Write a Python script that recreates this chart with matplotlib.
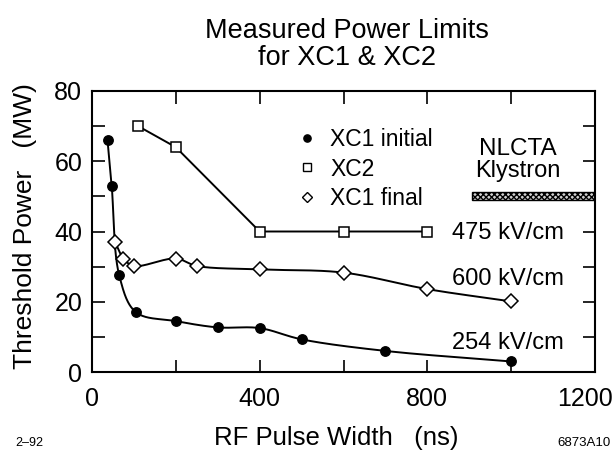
import numpy as np
import matplotlib
matplotlib.use("Agg")
import matplotlib.pyplot as plt
from matplotlib.patches import Rectangle
from matplotlib.lines import Line2D
from matplotlib.ticker import MultipleLocator
from matplotlib.transforms import ScaledTranslation

plt.rcParams['font.family'] = ['Liberation Sans', 'DejaVu Sans']

# ---- data ----
xc1_init_x = [37, 47, 65, 105, 200, 300, 400, 500, 700, 1000]
xc1_init_y = [66, 53, 27.5, 17, 14.5, 12.7, 12.5, 9.3, 6.0, 3.0]
xc2_x = [110, 200, 400, 600, 800]
xc2_y = [70, 64, 40, 40, 40]
xc1_final_x = [55, 75, 100, 200, 250, 400, 600, 800, 1000]
xc1_final_y = [37, 32.3, 30.2, 32.3, 30.2, 29.2, 28.3, 23.6, 20.1]
series_labels = ["XC1 initial", "XC2", "XC1 final"]
field_labels = ["475 kV/cm", "600 kV/cm", "254 kV/cm"]
field_label_y = [39.6, 26.5, 8.3]
klystron_power = 50.1
klystron_xrange = [906, 1200]
x_ticks = [0, 400, 800, 1200]
y_ticks = [0, 20, 40, 60, 80]

XMAX, YMAX = 1200, 80
AX_W, AX_H = 503, 281


def smooth(x, y, n=40):
    """Centripetal Catmull-Rom curve through the points (screen-scaled)."""
    P = np.column_stack([np.asarray(x, float) / XMAX * AX_W,
                         np.asarray(y, float) / YMAX * AX_H])
    P = np.vstack([2 * P[0] - P[1], P, 2 * P[-1] - P[-2]])
    out = []
    for i in range(1, len(P) - 2):
        p0, p1, p2, p3 = P[i - 1], P[i], P[i + 1], P[i + 2]
        t0 = 0.0
        t1 = t0 + np.linalg.norm(p1 - p0) ** 0.5
        t2 = t1 + np.linalg.norm(p2 - p1) ** 0.5
        t3 = t2 + np.linalg.norm(p3 - p2) ** 0.5
        t = np.linspace(t1, t2, n)[:, None]
        A1 = (t1 - t) / (t1 - t0) * p0 + (t - t0) / (t1 - t0) * p1
        A2 = (t2 - t) / (t2 - t1) * p1 + (t - t1) / (t2 - t1) * p2
        A3 = (t3 - t) / (t3 - t2) * p2 + (t - t2) / (t3 - t2) * p3
        B1 = (t2 - t) / (t2 - t0) * A1 + (t - t0) / (t2 - t0) * A2
        B2 = (t3 - t) / (t3 - t1) * A2 + (t - t1) / (t3 - t1) * A3
        C = (t2 - t) / (t2 - t1) * B1 + (t - t1) / (t2 - t1) * B2
        out.append(C)
    C = np.vstack(out)
    return C[:, 0] / AX_W * XMAX, C[:, 1] / AX_H * YMAX


fig = plt.figure(figsize=(6.14, 4.54), dpi=100)
ax = fig.add_axes([92 / 614, 82 / 454, AX_W / 614, AX_H / 454])
ax.set_xlim(0, XMAX)
ax.set_ylim(0, YMAX)

lw = 1.4
# XC1 initial
sx, sy = smooth(xc1_init_x, xc1_init_y)
ax.plot(sx, sy, color='black', lw=lw, zorder=2)
ax.plot(xc1_init_x, xc1_init_y, linestyle='none', marker='o', ms=6.8,
        color='black', zorder=3)
# XC2
ax.plot(xc2_x, xc2_y, color='black', lw=lw, zorder=2)
ax.plot(xc2_x, xc2_y, linestyle='none', marker='s', ms=6.8,
        mfc='white', mec='black', mew=1.1, zorder=3)
# XC1 final
sx, sy = smooth(xc1_final_x, xc1_final_y)
ax.plot(sx, sy, color='black', lw=lw, zorder=2)
ax.plot(xc1_final_x, xc1_final_y, linestyle='none', marker='D', ms=7.2,
        mfc='white', mec='black', mew=1.1, zorder=3)

handles = [
    Line2D([], [], linestyle='none', marker='o', ms=5.2, color='black'),
    Line2D([], [], linestyle='none', marker='s', ms=5.2, mfc='white',
           mec='black', mew=1.0),
    Line2D([], [], linestyle='none', marker='D', ms=5.6, mfc='white',
           mec='black', mew=1.0),
]
leg = ax.legend(handles, series_labels, loc='upper left',
                bbox_to_anchor=(0.41, 0.868), frameon=False,
                fontsize=16.5, handlelength=0.8, handletextpad=0.6,
                labelspacing=0.28, borderpad=0, borderaxespad=0)

# field labels
for lab, yy in zip(field_labels, field_label_y):
    ax.text(859, yy, lab, fontsize=17, ha='left', va='center', zorder=4,
            bbox=dict(facecolor='white', edgecolor='none', pad=0.5))

# NLCTA klystron
ax.text(1016, 63.6, "NLCTA", fontsize=17.5, ha='center', va='center')
ax.text(1016, 57.2, "Klystron", fontsize=17, ha='center', va='center')
ax.add_patch(Rectangle((klystron_xrange[0], klystron_power - 1.15),
                       klystron_xrange[1] - klystron_xrange[0], 2.3,
                       facecolor='#d0d0d0', edgecolor='black', lw=1.0,
                       hatch='xxxxxx', clip_on=True, zorder=2))

# axes styling
ax.set_xticks(x_ticks)
ax.set_yticks(y_ticks)
ax.xaxis.set_minor_locator(MultipleLocator(200))
ax.yaxis.set_minor_locator(MultipleLocator(10))
ax.tick_params(which='both', direction='in', top=True, right=True,
               length=9, width=1.2)
ax.tick_params(axis='x', which='major', labelsize=18, pad=11)
ax.tick_params(axis='y', which='major', labelsize=18, pad=7)
for s in ax.spines.values():
    s.set_linewidth(1.5)

# keep the last x tick label inside the picture
last = ax.get_xticklabels()[-1]
last.set_transform(last.get_transform() +
                   ScaledTranslation(-7 / 72, 0, fig.dpi_scale_trans))

ax.set_xlabel("RF Pulse Width   (ns)", fontsize=18.5)
ax.xaxis.set_label_coords((336 - 92) / AX_W, (372 - 438) / AX_H)
ax.xaxis.label.set_va('center')
ax.set_ylabel("Threshold Power   (MW)", fontsize=19)
ax.yaxis.set_label_coords((25 - 92) / AX_W, (372 - 226) / AX_H)
ax.yaxis.label.set_va('center')

fig.text(347 / 614, 1 - 31 / 454, "Measured Power Limits", fontsize=19.5,
         ha='center', va='center')
fig.text(347 / 614, 1 - 58 / 454, "for XC1 & XC2", fontsize=19.5,
         ha='center', va='center')
fig.text(29 / 614, 1 - 443 / 454, "2\u201392", fontsize=9,
         ha='center', va='center')
fig.text(584 / 614, 1 - 443 / 454, "6873A10", fontsize=9.5,
         ha='center', va='center')

fig.savefig("out.png", dpi=100)
